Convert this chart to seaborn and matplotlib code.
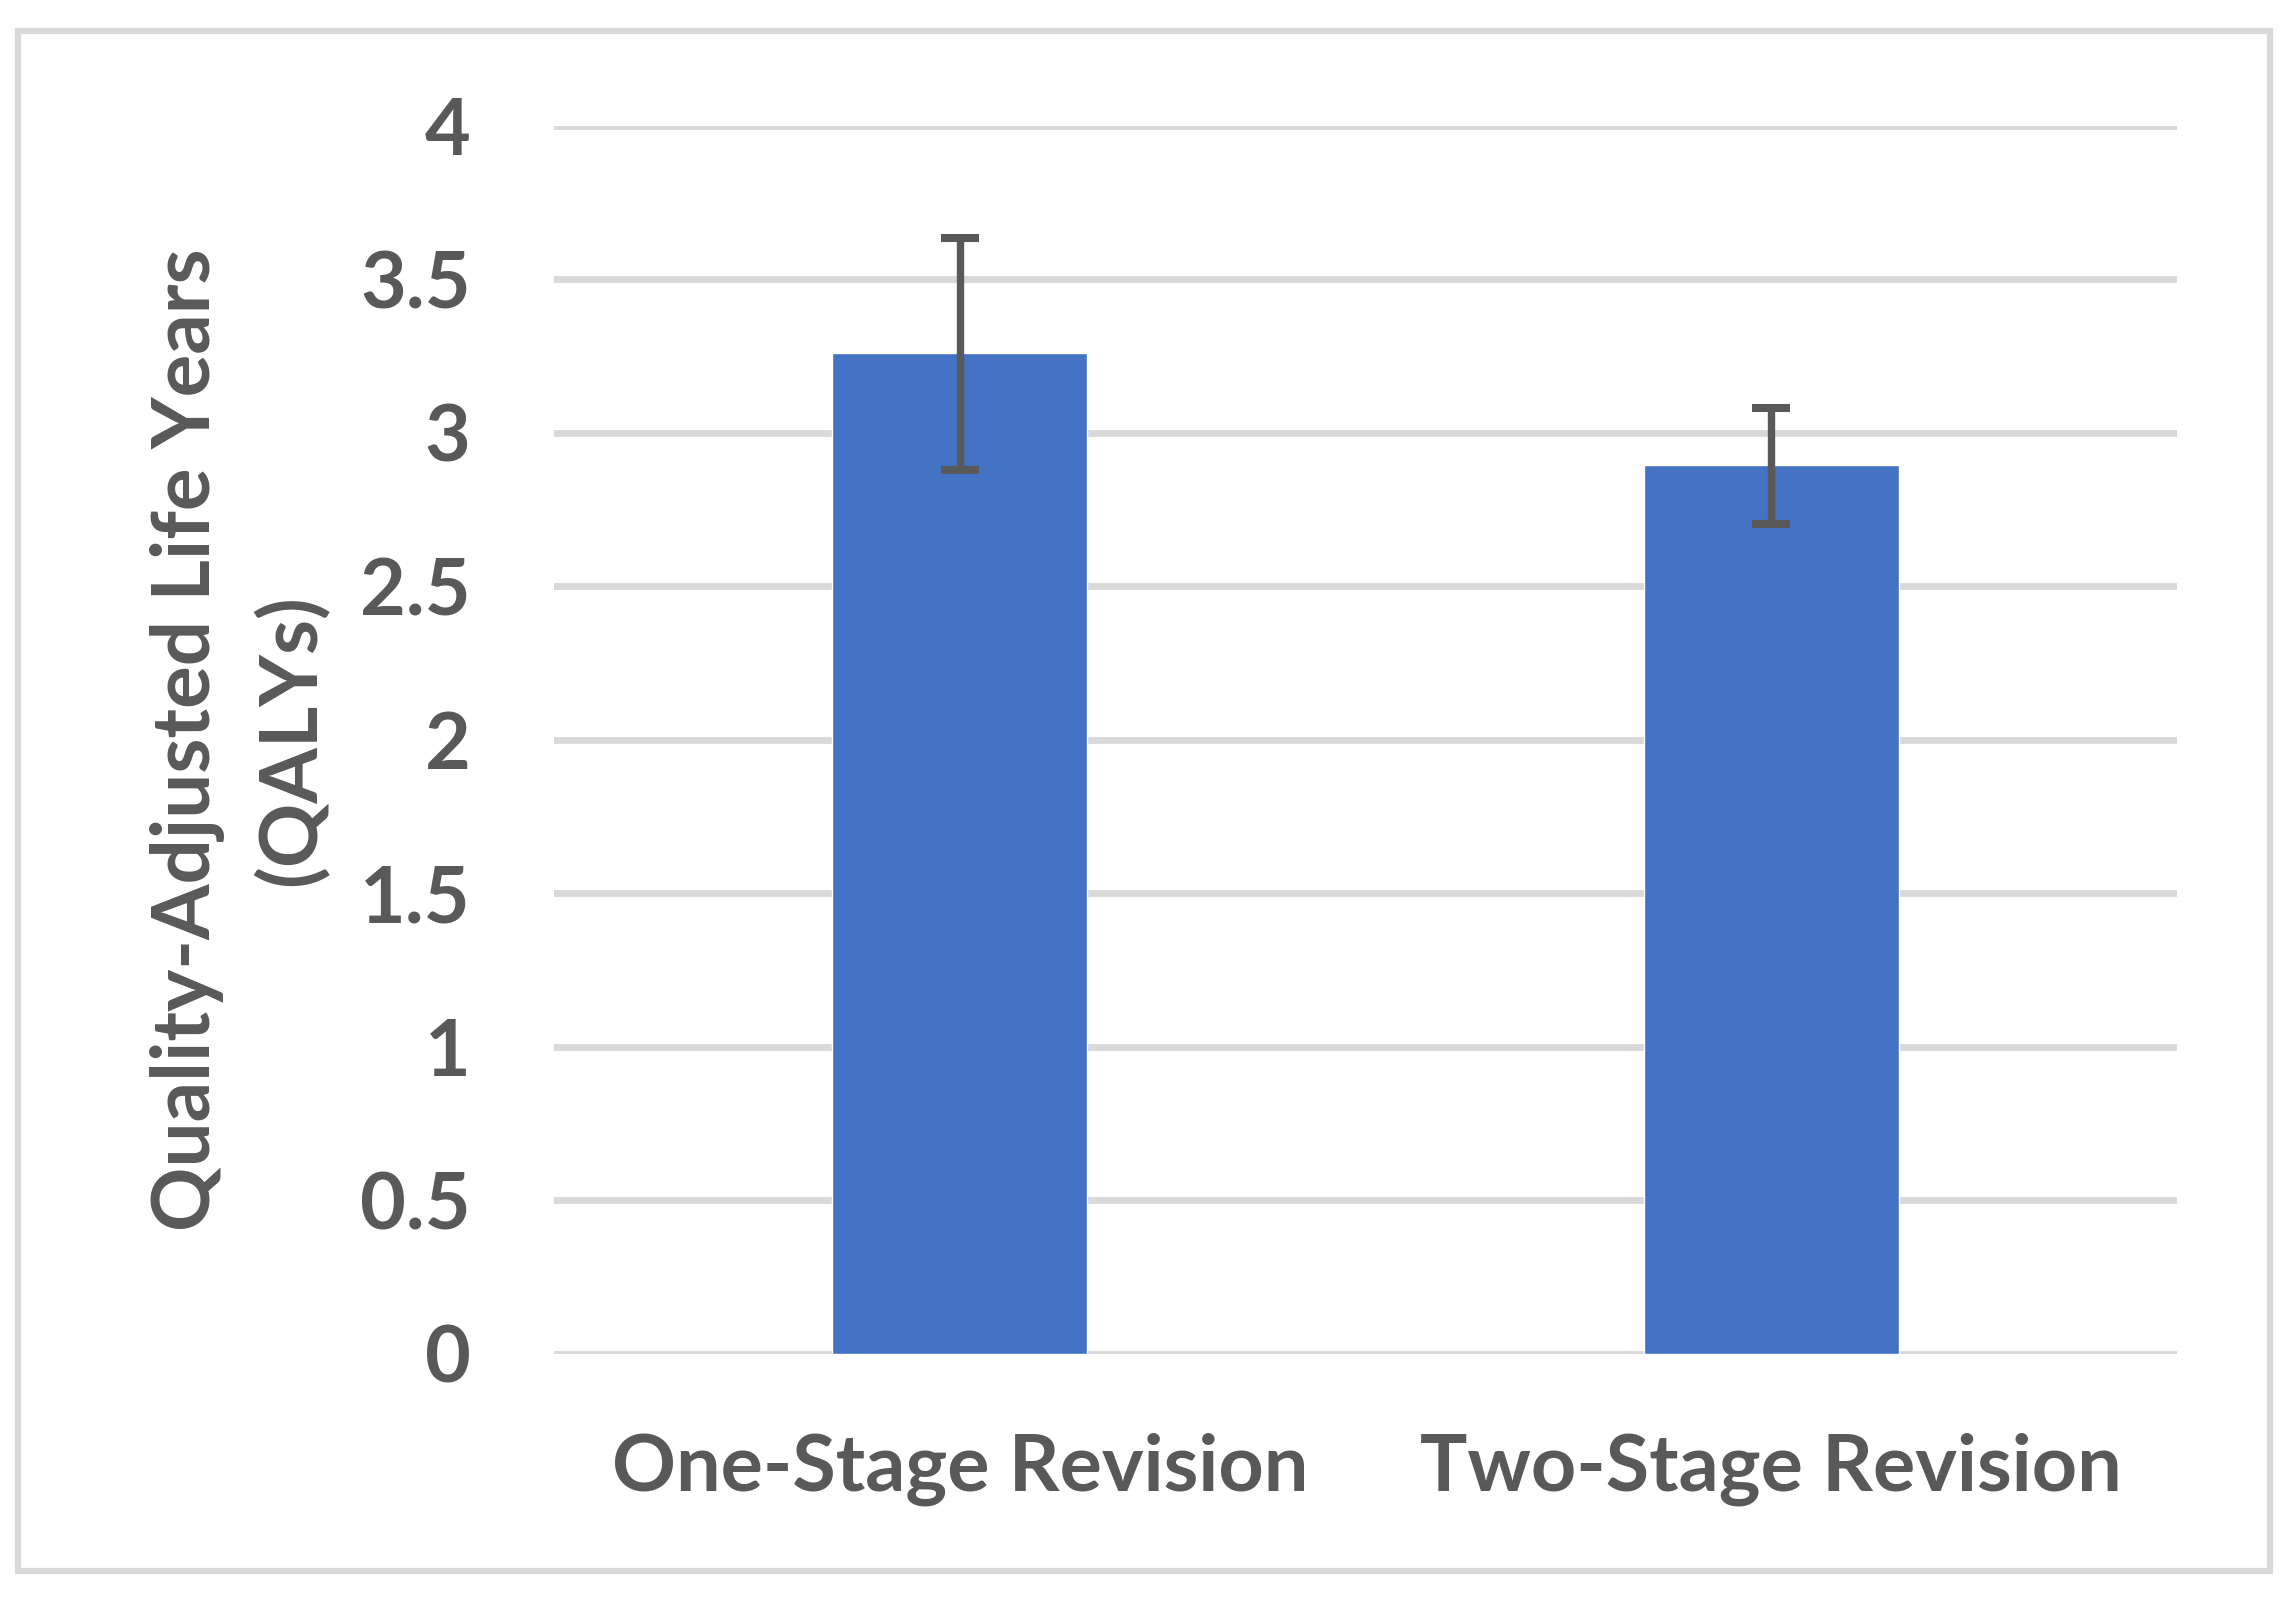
import numpy as np
import pandas as pd
import seaborn as sns
import matplotlib.pyplot as plt
from matplotlib.patches import Rectangle

# data
categories = ["One-Stage Revision", "Two-Stage Revision"]
qalys = [3.26, 2.895]
err_low = [2.878, 2.703]
err_high = [3.634, 3.081]

TEXT = "#595959"
GRID = "#D9D9D9"
BAR = "#4472C4"

sns.set_theme(style="white")
plt.rcParams["font.family"] = ["Lato", "DejaVu Sans"]
plt.rcParams["font.weight"] = "bold"

df = pd.DataFrame({"group": categories, "qaly": qalys})

fig = plt.figure(figsize=(22.93, 16.04), dpi=100)
ax = fig.add_axes([0.2416, 0.1561, 0.7078, 0.7655])

sns.barplot(data=df, x="group", y="qaly", color=BAR, saturation=1,
            width=0.314, errorbar=None, ax=ax, zorder=2)

yerr = np.array([np.array(qalys) - np.array(err_low),
                 np.array(err_high) - np.array(qalys)])
ax.errorbar(np.arange(len(categories)), qalys, yerr=yerr, fmt="none",
            ecolor=TEXT, elinewidth=5.3, capsize=13.7, capthick=5.8, zorder=3)

ax.set_xlim(-0.5, 1.5)
ax.set_ylim(0, 4)
ax.set_yticks(np.arange(0, 4.01, 0.5))
ax.set_yticklabels(["0", "0.5", "1", "1.5", "2", "2.5", "3", "3.5", "4"])
ax.yaxis.grid(True, color=GRID, linewidth=5)
ax.set_axisbelow(True)
for s in ax.spines.values():
    s.set_visible(False)

ax.tick_params(axis="y", length=0, pad=60, labelsize=57, labelcolor=TEXT)
ax.tick_params(axis="x", length=0, pad=57, labelsize=57, labelcolor=TEXT)
for lab in ax.get_xticklabels() + ax.get_yticklabels():
    lab.set_fontweight("bold")

ax.set_xlabel("")
ax.set_ylabel("Quality-Adjusted Life Years\n(QALYs)", fontsize=57.5,
              fontweight="bold", color=TEXT, linespacing=1.45)
ax.yaxis.set_label_coords(-0.1386, 0.5)

# chart frame
fig.patches.append(Rectangle((0.0079, 0.0206), 0.982, 0.960,
                             transform=fig.transFigure, fill=False,
                             edgecolor=GRID, linewidth=4.5))

fig.savefig("out.png", dpi=100, facecolor="white")
